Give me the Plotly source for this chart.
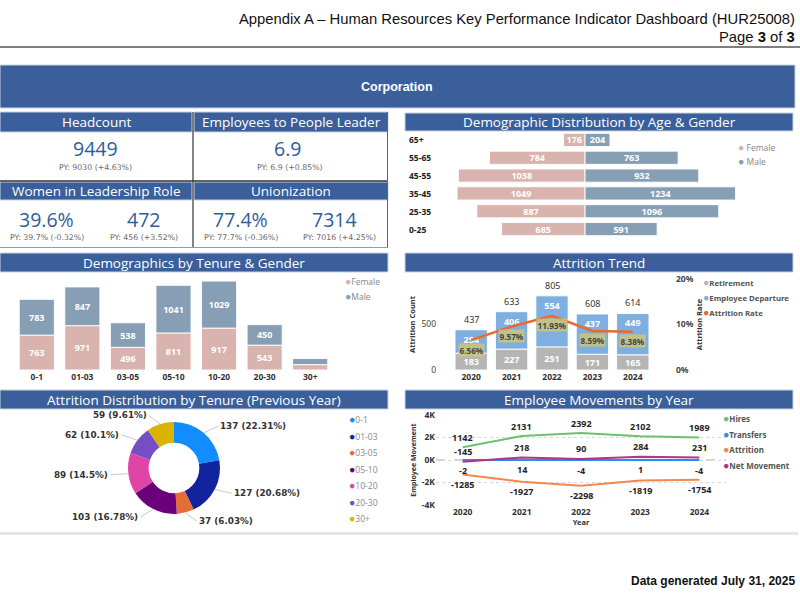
import math
import plotly.graph_objects as go

W, H = 800, 600
def px(x): return x / W
def py(y): return 1 - y / H

# ---------------- data ----------------
kpi_headcount = "9449"; kpi_headcount_py = "PY: 9030 (+4.63%)"
kpi_ratio = "6.9"; kpi_ratio_py = "PY: 6.9 (+0.85%)"
kpi_women_pct = "39.6%"; kpi_women_pct_py = "PY: 39.7% (-0.32%)"
kpi_women_n = "472"; kpi_women_n_py = "PY: 456 (+3.52%)"
kpi_union_pct = "77.4%"; kpi_union_pct_py = "PY: 77.7% (-0.36%)"
kpi_union_n = "7314"; kpi_union_n_py = "PY: 7016 (+4.25%)"

age_groups = ["0-25", "25-35", "35-45", "45-55", "55-65", "65+"]
age_female = [685, 887, 1049, 1038, 784, 176]
age_male = [591, 1096, 1234, 932, 763, 204]

tenure_groups = ["0-1", "01-03", "03-05", "05-10", "10-20", "20-30", "30+"]
tenure_female = [763, 971, 496, 811, 917, 543, 118]
tenure_male = [783, 847, 538, 1041, 1029, 450, 132]

years = ["2020", "2021", "2022", "2023", "2024"]
retirement = [183, 227, 251, 171, 165]
departure = [254, 406, 554, 437, 449]
attrition_rate = [0.0656, 0.0957, 0.1193, 0.0859, 0.0838]

donut_labels = ["0-1", "01-03", "03-05", "05-10", "10-20", "20-30", "30+"]
donut_values = [137, 127, 37, 103, 89, 62, 59]

hires = [1142, 2131, 2392, 2102, 1989]
transfers = [-2, 14, -4, 1, -4]
attrition_moves = [-1285, -1927, -2298, -1819, -1754]
net_movement = [-145, 218, 90, 284, 231]

# ---------------- styles ----------------
BLUE = "#3A5F9A"
FEMALE = "#D9B3AD"
MALE = "#879FB5"
RET = "#B5B5B5"
DEP = "#7FAEE0"
RATE = "#EA6A2C"
DONUT_COLORS = ["#118DFF", "#12239E", "#E66C37", "#6B007B", "#E044A7", "#744EC2", "#D9B300"]
HIRES_C = "#6CC16C"; TRANS_C = "#2B8CF0"; ATTR_C = "#F4874B"; NET_C = "#B0348C"
TF = "Open Sans"
LF = "Noto Sans"
AF = "Liberation Sans"
VF = "DejaVu Sans"

fig = go.Figure()

def bar_style(color):
    return dict(color=color, line=dict(color="rgba(255,255,255,0.9)", width=1))

inside_font = dict(family=LF, size=9, color="white", weight="bold")

# ---- Age pyramid ----
fig.add_trace(go.Bar(y=age_groups, x=[-v for v in age_female], orientation="h",
                     text=[str(v) for v in age_female], textposition="inside",
                     insidetextanchor="middle", textangle=0, constraintext="none",
                     insidetextfont=inside_font, marker=bar_style(FEMALE),
                     width=0.74, xaxis="x", yaxis="y", showlegend=False, name="Female"))
fig.add_trace(go.Bar(y=age_groups, x=age_male, orientation="h",
                     text=[str(v) for v in age_male], textposition="inside",
                     insidetextanchor="middle", textangle=0, constraintext="none",
                     insidetextfont=inside_font, marker=bar_style(MALE),
                     width=0.74, xaxis="x", yaxis="y", showlegend=False, name="Male"))

# ---- Tenure stacked ----
fig.add_trace(go.Bar(x=tenure_groups, y=tenure_female,
                     text=[str(v) if v >= 300 else "" for v in tenure_female],
                     textposition="inside", insidetextanchor="middle", textangle=0,
                     constraintext="none", insidetextfont=inside_font, marker=bar_style(FEMALE),
                     width=0.77, xaxis="x2", yaxis="y2", showlegend=False, name="Female"))
fig.add_trace(go.Bar(x=tenure_groups, y=tenure_male,
                     text=[str(v) if v >= 300 else "" for v in tenure_male],
                     textposition="inside", insidetextanchor="middle", textangle=0,
                     constraintext="none", insidetextfont=inside_font, marker=bar_style(MALE),
                     width=0.77, xaxis="x2", yaxis="y2", showlegend=False, name="Male"))

# ---- Attrition trend ----
fig.add_trace(go.Bar(x=years, y=retirement, text=[str(v) for v in retirement],
                     textposition="inside", insidetextanchor="middle", textangle=0,
                     constraintext="none", insidetextfont=inside_font, marker=bar_style(RET),
                     width=0.8, xaxis="x3", yaxis="y3", showlegend=False, name="Retirement"))
fig.add_trace(go.Bar(x=years, y=departure, text=[str(v) for v in departure],
                     textposition="inside", insidetextanchor="end", textangle=0,
                     constraintext="none", insidetextfont=inside_font, marker=bar_style(DEP),
                     width=0.8, xaxis="x3", yaxis="y3", showlegend=False, name="Employee Departure"))
fig.add_trace(go.Scatter(x=years, y=attrition_rate, mode="lines",
                         line=dict(color=RATE, width=2.5), xaxis="x3", yaxis="y4",
                         showlegend=False, name="Attrition Rate"))

# ---- Donut ----
D_CX, D_CY, D_R = 174, 468, 46
fig.add_trace(go.Pie(labels=donut_labels, values=donut_values, hole=0.55, sort=False,
                     direction="clockwise", rotation=0, textinfo="none",
                     marker=dict(colors=DONUT_COLORS, line=dict(color="white", width=0)),
                     domain=dict(x=[px(D_CX - D_R), px(D_CX + D_R)],
                                 y=[py(D_CY + D_R), py(D_CY - D_R)]),
                     showlegend=False))

# ---- Employee movements ----
for vals, col, name in [(hires, HIRES_C, "Hires"), (transfers, TRANS_C, "Transfers"),
                        (attrition_moves, ATTR_C, "Attrition"), (net_movement, NET_C, "Net Movement")]:
    fig.add_trace(go.Scatter(x=years, y=vals, mode="lines",
                             line=dict(color=col, width=2), xaxis="x5", yaxis="y5",
                             showlegend=False, name=name))

shapes = []
ann = []

def rect(x0, y0, x1, y1, fill, line=None, lw=0):
    shapes.append(dict(type="rect", xref="paper", yref="paper", x0=px(x0), x1=px(x1),
                       y0=py(y1), y1=py(y0), fillcolor=fill,
                       line=dict(color=line or fill, width=lw), layer="below"))

def hline(x0, x1, y, color, w=1, dash="solid"):
    shapes.append(dict(type="line", xref="paper", yref="paper", x0=px(x0), x1=px(x1),
                       y0=py(y), y1=py(y), line=dict(color=color, width=w, dash=dash)))

def vline(x, y0, y1, color, w=1):
    shapes.append(dict(type="line", xref="paper", yref="paper", x0=px(x), x1=px(x),
                       y0=py(y0), y1=py(y1), line=dict(color=color, width=w)))

def text(x, y, s, size, color="#333", family=TF, xanchor="center", bold=False):
    ann.append(dict(x=px(x), y=py(y), xref="paper", yref="paper", text=s, showarrow=False,
                    xanchor=xanchor, yanchor="middle",
                    font=dict(family=family, size=size, color=color,
                              weight="bold" if bold else "normal")))

# header
text(797, 19, "Appendix A \u2013 Human Resources Key Performance Indicator Dashboard (HUR25008)",
     14.8, "#111", AF, "right")
text(797, 37, "Page <b>3</b> of <b>3</b>", 14.8, "#111", AF, "right")
hline(0, 800, 47, "#555", 1.5)

# banner
rect(0, 65, 795, 108, BLUE, "#CBD5E3", 1)
text(397, 87, "Corporation", 12.5, "white", AF, bold=True)

# title bars
titles = [(0, 112, 192, 132, "Headcount"),
          (194, 112, 388, 132, "Employees to People Leader"),
          (0, 182, 192, 200, "Women in Leadership Role"),
          (194, 182, 388, 200, "Unionization"),
          (405, 113, 793, 131, "Demographic Distribution by Age & Gender"),
          (0, 253, 388, 272, "Demographics by Tenure & Gender"),
          (405, 253, 793, 272, "Attrition Trend"),
          (0, 390, 388, 409, "Attrition Distribution by Tenure (Previous Year)"),
          (405, 390, 793, 409, "Employee Movements by Year")]
for x0, y0, x1, y1, t in titles:
    rect(x0, y0, x1, y1, BLUE, "#C9D3E3", 1)
    text((x0 + x1) / 2, (y0 + y1) / 2 + 0.5, t, 13.5, "white", TF)

# KPI borders
vline(193, 112, 248, "#333", 1.2)
hline(0, 388, 181, "#333", 1.5)
vline(387.5, 112, 248, "#666", 1)
hline(0, 388, 247.5, "#999", 1)

KBLUE = "#2F5D9C"
PYC = "#6A6A6A"
PYS = 7.8
text(95, 149, kpi_headcount, 19.5, KBLUE)
text(95, 167, kpi_headcount_py, PYS, PYC, VF)
text(287, 149, kpi_ratio, 19.5, KBLUE)
text(290, 167, kpi_ratio_py, PYS, PYC, VF)
text(46, 219, kpi_women_pct, 19.5, KBLUE)
text(47, 237, kpi_women_pct_py, PYS, PYC, VF)
text(143, 219, kpi_women_n, 19.5, KBLUE)
text(144, 237, kpi_women_n_py, PYS, PYC, VF)
text(240, 219, kpi_union_pct, 19.5, KBLUE)
text(241, 237, kpi_union_pct_py, PYS, PYC, VF)
text(334, 219, kpi_union_n, 19.5, KBLUE)
text(339, 237, kpi_union_n_py, PYS, PYC, VF)

# pyramid category labels
for g in age_groups:
    ann.append(dict(x=px(407), y=g, xref="paper", yref="y", text=g, showarrow=False,
                    xanchor="left", yanchor="middle",
                    font=dict(family=LF, size=8.5, color="#222", weight="bold")))

# attrition totals and rate labels (x given as category index)
for i, (r, d) in enumerate(zip(retirement, departure)):
    ann.append(dict(x=i, y=r + d, xref="x3", yref="y3", text=str(r + d), showarrow=False,
                    xanchor="center", yanchor="bottom", yshift=2,
                    font=dict(family=LF, size=9, color="#333")))
for i, rt in enumerate(attrition_rate):
    ann.append(dict(x=i, y=rt, xref="x3", yref="y4", text=f"{rt * 100:.2f}%", showarrow=False,
                    xanchor="center", yanchor="middle", yshift=-9.5,
                    bgcolor="rgba(214,200,110,0.75)", borderpad=0.5,
                    font=dict(family=LF, size=8.2, color="#444", weight="bold")))

# movement data labels
for vals, sh in [(hires, 10), (transfers, -10), (attrition_moves, -10), (net_movement, 10)]:
    for i, v in enumerate(vals):
        ann.append(dict(x=i, y=v, xref="x5", yref="y5", text=str(v), showarrow=False,
                        xanchor="center", yanchor="middle", yshift=sh,
                        font=dict(family=LF, size=9, color="#252525", weight="bold")))

# donut labels with leader lines (angles from the data)
total_attr = sum(donut_values)
cum = 0
for v in donut_values:
    mid = (cum + v / 2) / total_attr
    cum += v
    th = 2 * math.pi * mid
    sx, sy = math.sin(th), -math.cos(th)
    hx = D_CX + D_R * sx
    hy = D_CY + D_R * sy
    side = 1 if sx >= 0 else -1
    ax = 9 * sx + 9 * side
    ay = 9 * sy
    pct = f"{v / total_attr * 100:.2f}".rstrip("0").rstrip(".") + "%"
    ann.append(dict(x=px(hx), y=py(hy), xref="paper", yref="paper", text=f"{v} ({pct})",
                    showarrow=True, arrowhead=0, arrowwidth=0.8, arrowcolor="#BBBBBB",
                    ax=ax, ay=ay, axref="pixel", ayref="pixel", standoff=0,
                    xanchor="left" if side > 0 else "right", yanchor="middle",
                    font=dict(family=VF, size=8.8, color="#333", weight="bold")))

# legends
def legend_items(x, ys, items, size=8.5, color="#777", bold=False, gap=" "):
    for y, (lab, col) in zip(ys, items):
        s = f'<span style="color:{col};font-size:10.5px">\u25CF</span>{gap}{lab}'
        ann.append(dict(x=px(x), y=py(y), xref="paper", yref="paper", text=s, showarrow=False,
                        xanchor="left", yanchor="middle",
                        font=dict(family=LF if bold else TF, size=size, color=color,
                                  weight="bold" if bold else "normal")))

legend_items(736, [147, 161], [("Female", FEMALE), ("Male", MALE)], 8.5, "#888")
legend_items(343, [281, 296], [("Female", FEMALE), ("Male", MALE)], 8.5, "#888", gap="")
legend_items(701, [282, 297, 312], [("Retirement", RET), ("Employee Departure", DEP),
                                     ("Attrition Rate", RATE)], 7.8, "#555", True, "")
legend_items(347, [419, 435.5, 452, 468.5, 485, 501.5, 518],
             list(zip(donut_labels, DONUT_COLORS)), 8.5, "#888", gap="")
legend_items(721, [418, 433.5, 449, 464.5], [("Hires", HIRES_C), ("Transfers", TRANS_C),
                                            ("Attrition", ATTR_C), ("Net Movement", NET_C)],
             8, "#555", True, "")

# zero dashed line movements
shapes.append(dict(type="line", xref="x5 domain", yref="y5", x0=0, x1=1, y0=0, y1=0,
                   line=dict(color="#AAAAAA", width=1.2, dash="dash"), layer="below"))

# bottom strip and footer
hline(0, 798, 533.5, "#E6E6E6", 3)
text(797, 581, "Data generated July 31, 2025", 12, "#111", AF, "right", bold=True)

axfont = dict(family=LF, size=8.5, color="#333", weight="bold")
cat = dict(type="category", automargin=False)
fig.update_layout(
    width=W, height=H, margin=dict(l=0, r=0, t=0, b=0, pad=0, autoexpand=False), autosize=False,
    paper_bgcolor="white", plot_bgcolor="rgba(0,0,0,0)",
    barmode="relative", shapes=shapes, annotations=ann, showlegend=False,
    xaxis=dict(domain=[px(440), px(760)], range=[-1189, 1434], visible=False, automargin=False),
    yaxis=dict(cat, domain=[py(238), py(131)], range=[-0.5, 5.5], visible=False,
               categoryorder="array", categoryarray=age_groups),
    xaxis2=dict(cat, domain=[px(14), px(333)], range=[-0.5, 6.5], anchor="y2",
                showgrid=False, showline=False, zeroline=False, ticks="",
                tickfont=axfont, categoryorder="array", categoryarray=tenure_groups),
    yaxis2=dict(domain=[py(370), py(278.6)], range=[0, 2000], anchor="x2", visible=False,
                automargin=False),
    xaxis3=dict(cat, domain=[px(451), px(653)], range=[-0.5, 4.5], anchor="y3",
                showgrid=False, showline=False, zeroline=False, ticks="", tickfont=axfont,
                categoryorder="array", categoryarray=years),
    yaxis3=dict(domain=[py(370), py(279)], range=[0, 988], anchor="x3", automargin=False,
                tickvals=[0, 500], showgrid=False, zeroline=False, showline=False,
                tickfont=dict(family=LF, size=8.5, color="#444"), ticklabelstandoff=14,
                title=dict(text="Attrition Count", standoff=4,
                           font=dict(family=LF, size=7.5, color="#333", weight="bold"))),
    yaxis4=dict(overlaying="y3", side="right", anchor="x3", range=[0, 0.2], automargin=False,
                tickvals=[0, 0.1, 0.2], tickformat=".0%", showgrid=False, zeroline=False,
                showline=False, tickfont=dict(family=LF, size=8.5, color="#444", weight="bold"),
                ticklabelstandoff=22,
                title=dict(text="Attrition Rate", standoff=4,
                           font=dict(family=LF, size=7.5, color="#333", weight="bold"))),
    xaxis5=dict(cat, domain=[px(436), px(726)], range=[-0.45, 4.45], anchor="y5",
                showgrid=False, showline=False, zeroline=False, ticks="", tickfont=axfont,
                categoryorder="array", categoryarray=years,
                title=dict(text="Year", standoff=2,
                           font=dict(family=LF, size=7.5, color="#333", weight="bold"))),
    yaxis5=dict(domain=[py(505), py(415)], range=[-4000, 4000], anchor="x5", automargin=False,
                tickvals=[-4000, -2000, 0, 2000, 4000], ticktext=["-4K", "-2K", "0K", "2K", "4K"],
                showgrid=True, gridcolor="#D8D8D8", griddash="dot", gridwidth=1,
                zeroline=False, showline=False, tickfont=axfont,
                title=dict(text="Employee Movement", standoff=4,
                           font=dict(family=LF, size=7, color="#333", weight="bold"))),
)

fig.write_html("out.html", config={"displayModeBar": False},
               post_script="document.body.style.margin='0';document.body.style.overflow='hidden';")
